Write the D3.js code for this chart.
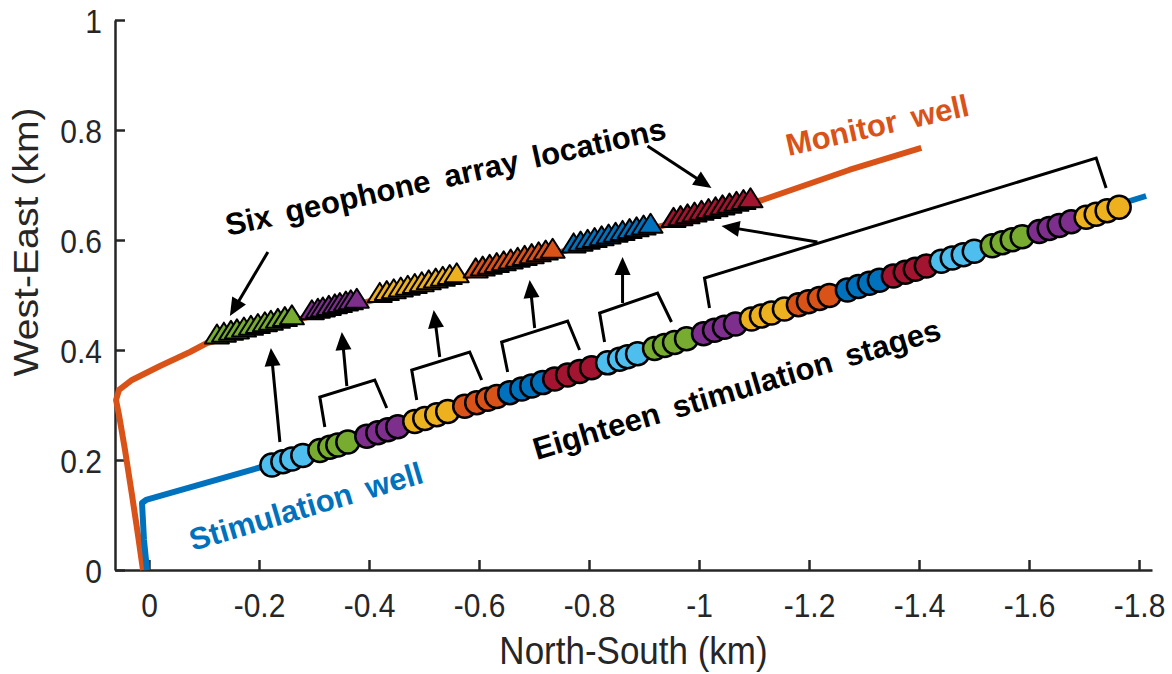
<!DOCTYPE html>
<html><head><meta charset="utf-8">
<script src="https://cdn.jsdelivr.net/npm/d3@7"></script>
<style>body{margin:0;background:#fff}svg{display:block}</style>
</head><body>
<svg id="chart" width="1172" height="674"></svg>
<script>
// ---------- axes ----------
const xTicks = [0, -0.2, -0.4, -0.6, -0.8, -1, -1.2, -1.4, -1.6, -1.8];
const xTickLabels = ["0", "-0.2", "-0.4", "-0.6", "-0.8", "-1", "-1.2", "-1.4", "-1.6", "-1.8"];
const yTicks = [0, 0.2, 0.4, 0.6, 0.8, 1];
const yTickLabels = ["0", "0.2", "0.4", "0.6", "0.8", "1"];
const xDomain = [0.0618, -1.8236];
const yDomain = [0, 1];
const xTitle = "North-South (km)";
const yTitle = "West-East (km)";

// ---------- well trajectories (km) ----------
const monitorX = [0.0109, 0.0200, 0.0309, 0.0436, 0.0545, 0.0599, 0.0545, 0.0309, -0.0200, -0.0745, -0.1054, -1.1153, -1.2730, -1.4042];
const monitorY = [0, 0.0636, 0.1364, 0.2182, 0.2818, 0.3091, 0.3273, 0.3455, 0.3709, 0.3964, 0.4127, 0.6727, 0.7273, 0.7673];
const stimX = [0.0036, 0.0091, 0.0127, 0.0054, -0.2107, -1.8129];
const stimY = [0, 0.0545, 0.1218, 0.1273, 0.1891, 0.6800];

// ---------- geophone arrays (triangles) ----------
const arrayNames = ["green", "purple", "yellow", "orange", "blue", "red"];
const geoX = [
  [-0.1235, -0.1362, -0.1490, -0.1599, -0.1726, -0.1853, -0.1980, -0.2107, -0.2216, -0.2343, -0.2470, -0.2598],
  [-0.2961, -0.3070, -0.3161, -0.3270, -0.3379, -0.3470, -0.3579, -0.3669, -0.3778],
  [-0.4196, -0.4323, -0.4450, -0.4578, -0.4705, -0.4832, -0.4959, -0.5086, -0.5213, -0.5341, -0.5468, -0.5595],
  [-0.5940, -0.6067, -0.6194, -0.6322, -0.6449, -0.6576, -0.6703, -0.6830, -0.6957, -0.7084, -0.7212, -0.7339],
  [-0.7720, -0.7847, -0.7975, -0.8102, -0.8229, -0.8356, -0.8483, -0.8610, -0.8738, -0.8865, -0.8992, -0.9119],
  [-0.9537, -0.9664, -0.9791, -0.9918, -1.0045, -1.0173, -1.0300, -1.0427, -1.0554, -1.0681, -1.0808, -1.0936]
];
const geoY = [
  [0.4283, 0.4315, 0.4348, 0.4375, 0.4408, 0.4440, 0.4473, 0.4505, 0.4533, 0.4566, 0.4598, 0.4630],
  [0.4723, 0.4751, 0.4774, 0.4802, 0.4830, 0.4853, 0.4881, 0.4904, 0.4932],
  [0.5038, 0.5071, 0.5103, 0.5136, 0.5168, 0.5201, 0.5233, 0.5266, 0.5298, 0.5331, 0.5363, 0.5395],
  [0.5484, 0.5516, 0.5548, 0.5581, 0.5613, 0.5646, 0.5678, 0.5711, 0.5743, 0.5776, 0.5808, 0.5841],
  [0.5938, 0.5970, 0.6003, 0.6035, 0.6068, 0.6100, 0.6133, 0.6165, 0.6198, 0.6230, 0.6262, 0.6295],
  [0.6402, 0.6434, 0.6466, 0.6499, 0.6531, 0.6564, 0.6596, 0.6629, 0.6661, 0.6694, 0.6726, 0.6759]
];

// ---------- stimulation stages (circles, 4 per stage) ----------
const stageNames = ["lightblue", "green", "purple", "yellow", "orange", "blue", "red",
  "lightblue", "green", "purple", "yellow", "orange", "blue", "red",
  "lightblue", "green", "purple", "yellow"];
const stageX = [
  [-0.2234, -0.2434, -0.2598, -0.2797], [-0.3106, -0.3288, -0.3433, -0.3615],
  [-0.3960, -0.4160, -0.4342, -0.4523], [-0.4832, -0.5014, -0.5232, -0.5431],
  [-0.5740, -0.5958, -0.6158, -0.6322], [-0.6558, -0.6776, -0.6957, -0.7157],
  [-0.7375, -0.7611, -0.7829, -0.8047], [-0.8338, -0.8556, -0.8701, -0.8883],
  [-0.9192, -0.9373, -0.9555, -0.9773], [-1.0082, -1.0282, -1.0463, -1.0663],
  [-1.0954, -1.1135, -1.1317, -1.1553], [-1.1807, -1.1989, -1.2189, -1.2371],
  [-1.2698, -1.2897, -1.3097, -1.3279], [-1.3533, -1.3751, -1.3933, -1.4133],
  [-1.4405, -1.4605, -1.4805, -1.5005], [-1.5332, -1.5513, -1.5695, -1.5876],
  [-1.6185, -1.6367, -1.6549, -1.6767], [-1.7039, -1.7221, -1.7420, -1.7639]
];
const stageY = [
  [0.1909, 0.1970, 0.2020, 0.2080], [0.2174, 0.2230, 0.2274, 0.2329],
  [0.2434, 0.2495, 0.2550, 0.2606], [0.2699, 0.2755, 0.2821, 0.2882],
  [0.2976, 0.3042, 0.3103, 0.3153], [0.3225, 0.3291, 0.3346, 0.3407],
  [0.3473, 0.3545, 0.3611, 0.3678], [0.3766, 0.3833, 0.3877, 0.3932],
  [0.4026, 0.4081, 0.4137, 0.4203], [0.4297, 0.4358, 0.4413, 0.4474],
  [0.4562, 0.4617, 0.4673, 0.4745], [0.4822, 0.4877, 0.4938, 0.4993],
  [0.5093, 0.5154, 0.5214, 0.5270], [0.5347, 0.5413, 0.5469, 0.5529],
  [0.5612, 0.5673, 0.5734, 0.5795], [0.5894, 0.5950, 0.6005, 0.6060],
  [0.6154, 0.6209, 0.6265, 0.6331], [0.6414, 0.6469, 0.6530, 0.6596]
];

// ---------- annotations (km) ----------
const bracketX = [
  [-0.3197, -0.3106, -0.4105, -0.4323],
  [-0.4868, -0.4777, -0.5831, -0.6049],
  [-0.6521, -0.6412, -0.7611, -0.7829],
  [-0.8283, -0.8193, -0.9246, -0.9500],
  [-1.0191, -1.0100, -1.7221, -1.7402]
];
const bracketY = [
  [0.2600, 0.3145, 0.3455, 0.2945],
  [0.3091, 0.3636, 0.3964, 0.3455],
  [0.3600, 0.4145, 0.4527, 0.4000],
  [0.4145, 0.4673, 0.5036, 0.4509],
  [0.4764, 0.5309, 0.7491, 0.6945]
];
const arrowTailX = [-0.2162, -0.9064, -0.2380, -0.3597, -0.5286, -0.7012, -0.8610, -1.2153];
const arrowTailY = [0.5782, 0.7709, 0.2327, 0.3345, 0.3873, 0.4400, 0.4855, 0.5964];
const arrowTipX  = [-0.1471, -1.0227, -0.2216, -0.3506, -0.5177, -0.6921, -0.8610, -1.0409];
const arrowTipY  = [0.4618, 0.6945, 0.4036, 0.4327, 0.4727, 0.5273, 0.5691, 0.6255];

const labelText  = ["Six geophone array locations", "Monitor well", "Stimulation well", "Eighteen stimulation stages"];
const labelX     = [-0.1435, -1.1626, -0.0799, -0.7048];
const labelY     = [0.6073, 0.7527, 0.0345, 0.2000];
const labelAngle = [-12.5, -12.6, -16.5, -16.6];
const labelColor = ["black", "orange", "blue", "black"];

const palette = {
  blue: "#0072BD", orange: "#D95319", yellow: "#EDB120", purple: "#7E2F8E",
  green: "#77AC30", lightblue: "#4DBEEE", red: "#A2142F", black: "#000000"
};

// ---------- drawing ----------
const svg = d3.select("#chart");
const x = d3.scaleLinear().domain(xDomain).range([115, 1152]);
const y = d3.scaleLinear().domain(yDomain).range([570, 20]);
const axisColor = "#262626";
const font = "'Liberation Sans', Arial, Helvetica, sans-serif";
const stretch = 1.12;

const gx = svg.append("g").attr("transform", "translate(0,570)")
  .call(d3.axisBottom(x).tickValues(xTicks).tickFormat((d, i) => xTickLabels[i])
    .tickSizeInner(-10).tickSizeOuter(0));
const gy = svg.append("g").attr("transform", "translate(115,0)")
  .call(d3.axisLeft(y).tickValues(yTicks).tickFormat((d, i) => yTickLabels[i])
    .tickSizeInner(-10).tickSizeOuter(0));
[gx, gy].forEach(g => {
  g.select(".domain").attr("stroke", axisColor).attr("stroke-width", 2.5);
  g.selectAll(".tick line").attr("stroke", axisColor).attr("stroke-width", 2.5);
  g.selectAll(".tick text").attr("fill", axisColor).attr("font-size", 30).attr("font-family", font);
});
gx.selectAll(".tick text").attr("y", 0).attr("dy", 0)
  .attr("transform", `translate(0,47) scale(1,${stretch})`);
gy.selectAll(".tick text").attr("x", 0).attr("dy", 0)
  .attr("transform", `translate(-13,${0.358 * 30 * stretch}) scale(1,${stretch})`);

svg.append("text").attr("transform", `translate(${(x.range()[0] + x.range()[1]) / 2},664) scale(1,${stretch})`)
  .attr("text-anchor", "middle").attr("font-size", 35).attr("font-family", font)
  .attr("fill", axisColor).text(xTitle);
svg.append("text").attr("transform", `translate(38,242) rotate(-90) scale(${stretch},1)`)
  .attr("text-anchor", "middle").attr("font-size", 35).attr("font-family", font)
  .attr("fill", axisColor).text(yTitle);

// wells
const line = d3.line().x(d => x(d[0])).y(d => y(d[1]));
svg.append("path").attr("d", line(monitorX.map((v, i) => [v, monitorY[i]])))
  .attr("fill", "none").attr("stroke", palette.orange).attr("stroke-width", 6).attr("stroke-linejoin", "round");
svg.append("path").attr("d", line(stimX.map((v, i) => [v, stimY[i]])))
  .attr("fill", "none").attr("stroke", palette.blue).attr("stroke-width", 6).attr("stroke-linejoin", "round");

// triangles
const tri = "M0,-10 L12,9 L-12,9 Z";
arrayNames.forEach((name, g) => {
  svg.append("g").selectAll("path").data(geoX[g].map((v, i) => [v, geoY[g][i]])).join("path")
    .attr("d", tri).attr("transform", d => `translate(${x(d[0])},${y(d[1])})`)
    .attr("fill", palette[name]).attr("stroke", "#000").attr("stroke-width", 2).attr("stroke-linejoin", "round");
});

// circles
stageNames.forEach((name, s) => {
  svg.append("g").selectAll("circle").data(stageX[s].map((v, i) => [v, stageY[s][i]])).join("circle")
    .attr("cx", d => x(d[0])).attr("cy", d => y(d[1])).attr("r", 11.5)
    .attr("fill", palette[name]).attr("stroke", "#000").attr("stroke-width", 2.5);
});

// brackets
bracketX.forEach((bx, b) => {
  svg.append("path").attr("d", line(bx.map((v, i) => [v, bracketY[b][i]])))
    .attr("fill", "none").attr("stroke", "#000").attr("stroke-width", 3).attr("stroke-linejoin", "miter");
});

// arrows
arrowTailX.forEach((tx, a) => {
  const x1 = x(tx), y1 = y(arrowTailY[a]), x2 = x(arrowTipX[a]), y2 = y(arrowTipY[a]);
  const dx = x2 - x1, dy = y2 - y1, L = Math.hypot(dx, dy), ux = dx / L, uy = dy / L;
  const hl = 18, hw = 8;
  svg.append("line").attr("x1", x1).attr("y1", y1).attr("x2", x2 - ux * (hl - 2)).attr("y2", y2 - uy * (hl - 2))
    .attr("stroke", "#000").attr("stroke-width", 3);
  const bxp = x2 - ux * hl, byp = y2 - uy * hl;
  svg.append("path").attr("d", `M${x2},${y2} L${bxp - uy * hw},${byp + ux * hw} L${bxp + uy * hw},${byp - ux * hw} Z`)
    .attr("fill", "#000");
});

// labels
labelText.forEach((t, i) => {
  svg.append("text").attr("transform", `translate(${x(labelX[i])},${y(labelY[i])}) rotate(${labelAngle[i]})`)
    .attr("font-family", font).attr("font-weight", "bold").attr("font-size", 31)
    .attr("word-spacing", 6).attr("fill", palette[labelColor[i]]).text(t);
});
</script>
</body></html>
